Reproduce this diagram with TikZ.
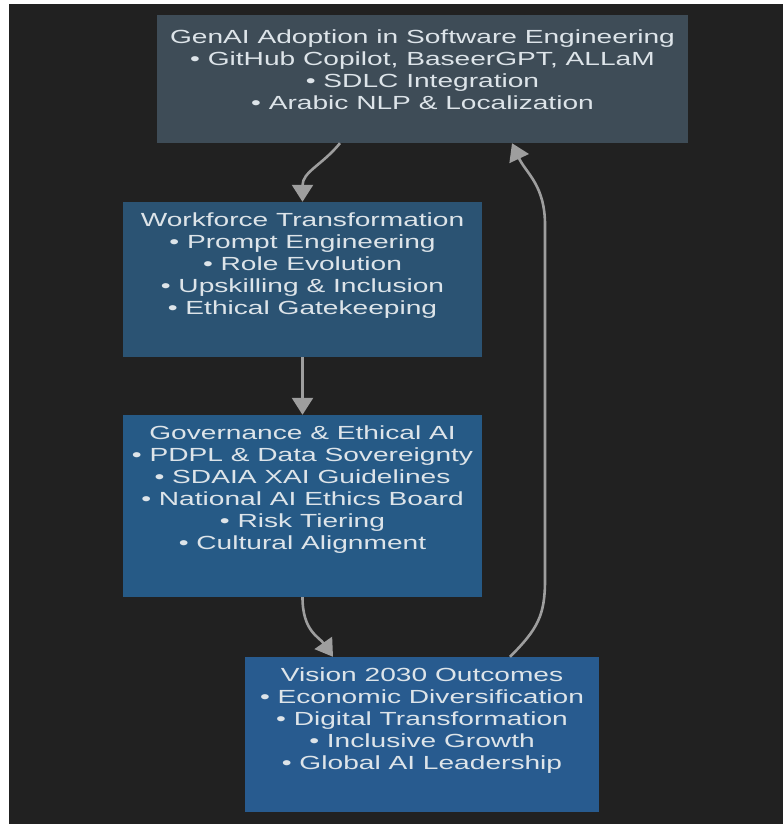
\documentclass[tikz,border=0pt]{standalone}
\usepackage{fontspec}
\setmainfont{Liberation Sans}
\usetikzlibrary{arrows.meta}
\definecolor{bgdark}{HTML}{212121}
\definecolor{fillA}{HTML}{3E4C57}
\definecolor{fillB}{HTML}{2B5373}
\definecolor{fillC}{HTML}{265A86}
\definecolor{fillD}{HTML}{285B8F}
\definecolor{txtcol}{HTML}{DDE4E9}
\definecolor{linecol}{HTML}{9E9E9E}
\newcommand\wl[1]{\scalebox{1.48}[1]{#1}}
\begin{document}
\begin{tikzpicture}[x=1pt,y=-1pt,
  boxnode/.style={rectangle, draw=none, inner sep=0pt},
  txt/.style={align=center, text=txtcol, inner sep=0pt, font=\fontsize{19}{22}\selectfont},
  conn/.style={draw=linecol, line width=2.6pt, -{Triangle[length=17pt,width=21pt]}}]
\useasboundingbox (0,0) rectangle (783,824);
\fill[white] (0,0) rectangle (783,824);
\fill[bgdark] (9,4) rectangle (783,824);

\node[boxnode, fill=fillA, minimum width=531pt, minimum height=128pt] (b1) at (422.5,79) {};
\node[boxnode, fill=fillB, minimum width=359pt, minimum height=155pt] (b2) at (302.5,279.5) {};
\node[boxnode, fill=fillC, minimum width=359pt, minimum height=182pt] (b3) at (302.5,506) {};
\node[boxnode, fill=fillD, minimum width=354pt, minimum height=155pt] (b4) at (422,734.5) {};

\node[txt] (t1) at (422.5,70) {\wl{GenAI Adoption in Software Engineering}\\
\wl{• GitHub Copilot, BaseerGPT, ALLaM}\\
\wl{• SDLC Integration}\\
\wl{• Arabic NLP \& Localization}};
\node[txt] (t2) at (302.5,266) {\wl{Workforce Transformation}\\
\wl{• Prompt Engineering}\\
\wl{• Role Evolution}\\
\wl{• Upskilling \& Inclusion}\\
\wl{• Ethical Gatekeeping}};
\node[txt] (t3) at (302.5,490) {\wl{Governance \& Ethical AI}\\
\wl{• PDPL \& Data Sovereignty}\\
\wl{• SDAIA XAI Guidelines}\\
\wl{• National AI Ethics Board}\\
\wl{• Risk Tiering}\\
\wl{• Cultural Alignment}};
\node[txt] (t4) at (422,721) {\wl{Vision 2030 Outcomes}\\
\wl{• Economic Diversification}\\
\wl{• Digital Transformation}\\
\wl{• Inclusive Growth}\\
\wl{• Global AI Leadership}};

\coordinate (r1) at (545,580);
\coordinate (r2) at (545,225);

\draw[conn] ([xshift=-82.5pt]b1.south) .. controls +(-18,22) and +(0,-30) .. (b2.north);
\draw[conn] (b2.south) -- (b3.north);
\draw[conn] (b3.south) .. controls +(0,34) and +(-14,-20) .. ([xshift=-89pt]b4.north);
\draw[conn] ([xshift=88pt]b4.north) .. controls +(28,-28) and +(0,35) .. (r1) -- (r2) .. controls +(0,-40) and +(14,30) .. ([xshift=89.5pt]b1.south);
\end{tikzpicture}
\end{document}
